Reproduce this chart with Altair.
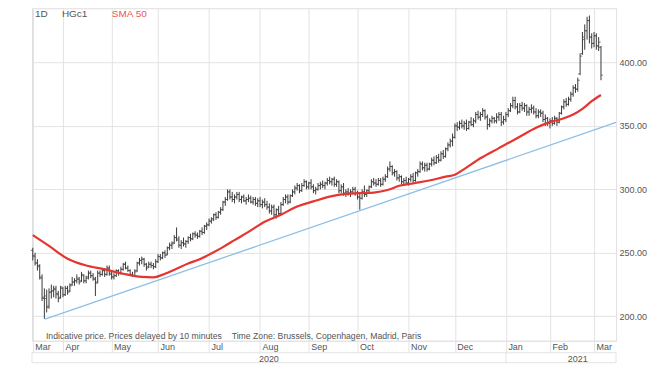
import altair as alt
import pandas as pd

# ---------------- data ----------------
month_labels = ["Mar", "Apr", "May", "Jun", "Jul", "Aug", "Sep", "Oct", "Nov", "Dec", "Jan", "Feb", "Mar"]
month_start_idx = [0, 13, 34, 54, 76, 98, 119, 140, 162, 182, 204, 223, 242]
year_labels = ["2020", "2021"]
year_label_idx = [101.8, 235]
price_ticks = [200, 250, 300, 350, 400]

# daily OHLC, trading-day index 0 = 13 Mar 2020 ... 245 = 4 Mar 2021
open_ = [
    252, 247, 242, 239, 230, 214, 214, 208, 219, 220, 221, 217, 215,
    222, 217, 222, 220, 225, 227, 228, 229, 228, 232, 228, 231, 234, 232, 229, 227, 234, 233, 236, 233, 238,
    233, 231, 232, 236, 234, 237, 241, 238, 236, 233, 232, 236, 242, 244, 245, 241, 239, 241, 240, 239,
    243, 247, 246, 250, 249, 254, 256, 258, 262, 260, 256, 258, 257, 259, 262, 261, 265, 264, 263, 267, 266, 271,
    272, 275, 277, 280, 278, 282, 284, 290, 292, 298, 294, 292, 294, 296, 292, 294, 291, 292, 293, 290, 292, 289,
    291, 288, 290, 288, 286, 283, 286, 280, 284, 281, 288, 292, 294, 290, 295, 298, 301, 303, 299, 303, 306,
    302, 305, 302, 299, 300, 303, 304, 303, 305, 307, 306, 308, 304, 306, 299, 302, 297, 298, 297, 298, 300,
    297, 294, 293, 298, 296, 299, 302, 306, 305, 304, 307, 304, 308, 310, 316, 318, 313, 314, 309, 310, 306, 307,
    305, 308, 310, 307, 313, 314, 320, 317, 319, 316, 320, 323, 321, 325, 323, 328, 326, 332, 335, 338,
    341, 350, 349, 352, 350, 352, 348, 353, 351, 354, 359, 357, 359, 362, 357, 351, 354, 356, 354, 357, 359, 353,
    355, 359, 362, 366, 370, 365, 361, 366, 364, 366, 361, 363, 364, 361, 358, 361, 360, 355, 356,
    352, 354, 352, 356, 353, 360, 365, 369, 367, 371, 375, 380, 379, 391, 407, 418, 425, 433, 420,
    415, 421, 413, 412,
]
high = [
    254, 250, 245, 241, 233, 222, 221, 222, 225, 224, 224, 220, 224,
    223, 224, 224, 226, 231, 230, 233, 231, 235, 233, 232, 236, 236, 234, 231, 236, 236, 238, 238, 240, 240,
    235, 234, 237, 237, 239, 242, 243, 240, 237, 235, 237, 243, 246, 247, 246, 242, 243, 243, 242, 245,
    249, 249, 251, 252, 255, 258, 259, 264, 270, 263, 260, 262, 260, 263, 265, 266, 267, 266, 268, 270, 272, 274,
    277, 278, 281, 282, 283, 286, 291, 294, 300, 300, 298, 296, 298, 298, 295, 296, 294, 296, 295, 294, 294, 293,
    294, 292, 293, 291, 289, 288, 288, 285, 287, 290, 294, 296, 296, 296, 300, 303, 305, 304, 305, 308, 307,
    306, 308, 304, 302, 305, 306, 307, 306, 309, 310, 309, 310, 308, 307, 304, 305, 300, 301, 300, 302, 302,
    299, 298, 300, 303, 300, 303, 308, 309, 308, 309, 309, 310, 312, 318, 322, 319, 316, 315, 312, 311, 309, 310,
    309, 312, 313, 314, 316, 322, 322, 321, 321, 321, 325, 326, 327, 328, 330, 331, 333, 337, 340, 344,
    352, 353, 354, 355, 354, 355, 354, 357, 356, 361, 362, 361, 364, 363, 359, 356, 358, 357, 360, 361, 361, 358,
    361, 364, 368, 373, 373, 368, 368, 369, 368, 367, 365, 367, 366, 364, 363, 363, 362, 359, 357,
    356, 357, 358, 357, 361, 366, 371, 372, 373, 377, 382, 383, 388, 407, 424, 430, 436, 437, 423,
    424, 423, 420, 413,
]
low = [
    244, 240, 236, 229, 212, 198, 203, 206, 214, 215, 214, 211, 214,
    215, 216, 217, 219, 224, 224, 226, 225, 227, 226, 226, 229, 230, 228, 216, 226, 231, 232, 231, 232, 232,
    229, 229, 231, 232, 233, 236, 237, 235, 232, 231, 231, 235, 240, 241, 239, 236, 238, 238, 237, 238,
    242, 244, 245, 246, 248, 252, 253, 257, 259, 254, 253, 255, 254, 257, 259, 260, 262, 261, 262, 264, 265, 268,
    271, 273, 275, 276, 277, 280, 283, 287, 291, 292, 290, 289, 292, 290, 289, 290, 288, 290, 289, 288, 287, 286,
    286, 285, 286, 284, 281, 280, 278, 277, 279, 280, 287, 289, 288, 289, 294, 296, 299, 297, 298, 302, 300,
    300, 300, 297, 296, 299, 300, 301, 300, 303, 304, 303, 302, 302, 297, 297, 295, 294, 295, 294, 296, 295,
    292, 284, 292, 294, 294, 297, 301, 303, 302, 303, 302, 303, 306, 309, 314, 311, 310, 307, 306, 304, 303, 304,
    303, 306, 305, 306, 310, 313, 315, 314, 314, 315, 318, 319, 320, 321, 322, 324, 325, 330, 333, 334,
    340, 346, 347, 348, 347, 346, 347, 350, 349, 352, 355, 354, 357, 355, 347, 349, 352, 352, 352, 354, 350, 351,
    353, 357, 361, 364, 363, 359, 360, 362, 361, 358, 358, 360, 359, 356, 356, 357, 353, 350, 350,
    348, 350, 351, 350, 352, 359, 363, 365, 366, 369, 373, 376, 377, 390, 406, 410, 418, 415, 411,
    412, 410, 409, 386,
]
close = [
    248, 242, 240, 231, 215, 216, 207, 219, 220, 222, 218, 214, 223,
    217, 222, 219, 224, 227, 228, 230, 227, 233, 228, 230, 234, 232, 230, 226, 234, 233, 236, 233, 238, 234,
    231, 232, 236, 234, 237, 241, 238, 236, 233, 232, 235, 242, 244, 245, 241, 238, 241, 240, 239, 243,
    247, 246, 250, 248, 254, 256, 257, 262, 261, 256, 258, 257, 259, 262, 261, 265, 264, 263, 267, 266, 271, 272,
    275, 276, 280, 278, 282, 284, 290, 292, 298, 294, 292, 294, 296, 292, 294, 291, 292, 293, 290, 292, 289, 291,
    288, 290, 288, 286, 283, 286, 280, 284, 281, 288, 292, 294, 290, 295, 298, 301, 303, 299, 303, 306, 302,
    305, 302, 299, 300, 303, 304, 303, 305, 307, 306, 308, 304, 306, 299, 302, 297, 298, 297, 298, 300, 297,
    294, 293, 298, 296, 299, 302, 306, 305, 304, 307, 304, 308, 310, 316, 318, 313, 314, 309, 310, 306, 307, 305,
    308, 310, 307, 313, 314, 320, 317, 319, 316, 320, 323, 321, 325, 323, 328, 326, 332, 335, 338, 341,
    350, 349, 352, 350, 352, 348, 353, 351, 354, 359, 357, 359, 362, 357, 351, 354, 356, 354, 357, 359, 353, 355,
    359, 362, 366, 370, 365, 361, 366, 364, 366, 361, 363, 364, 361, 358, 361, 360, 355, 356, 352,
    354, 352, 356, 353, 360, 365, 369, 367, 371, 375, 380, 379, 386, 405, 420, 425, 433, 420, 415,
    421, 413, 416, 390,
]

# 50-day simple moving average, sampled along the red line
sma_idx = [0, 7, 15, 23, 31, 39, 47, 52, 57, 62, 67, 72, 77, 82, 87, 93, 100, 107, 114, 121, 128,
           135, 141, 147, 153, 158, 165, 171, 178, 182, 186, 193, 201, 209, 217, 223, 229, 233, 237, 241, 245]
sma_val = [264, 255.5, 245.3, 240, 237, 233.5, 231, 230.7, 233.5, 237.5, 241.5, 245, 249.5, 254.5, 260,
           266.5, 274.5, 280, 286.5, 290.5, 294.3, 296.5, 297, 297.5, 299.5, 302.8, 305, 307, 310, 311.5,
           316, 324.5, 332.5, 340.5, 348.5, 353, 356, 359, 363.5, 369.5, 374.4]

# trend line through the lows
trend_idx = [5.3, 251.5]
trend_val = [197.8, 352.7]

# ---------------- tables ----------------
n = len(close)
bars = pd.DataFrame({"idx": list(range(n)), "open": open_, "high": high, "low": low, "close": close})
sma = pd.DataFrame({"idx": sma_idx, "sma": sma_val})
trend = pd.DataFrame({"idx": trend_idx, "trend": trend_val})
years = pd.DataFrame({"idx": year_label_idx, "label": year_labels})
bounds = pd.DataFrame({"idx": [-0.35, month_start_idx[10], 251.5]})

# ---------------- styling ----------------
FONT = "Liberation Sans"
GRID = "#e3e3e3"
TXT = "#555555"
W, H = 585, 333

xscale = alt.Scale(domain=[-0.35, 251.5], nice=False, zero=False)
yscale = alt.Scale(domain=[180.7, 442.7], nice=False, zero=False)

label_arr = "[" + ",".join("'" + m + "'" for m in month_labels) + "]"
val_arr = "[" + ",".join(str(v) for v in month_start_idx) + "]"

xaxis = alt.Axis(
    values=month_start_idx, labelExpr=label_arr + "[indexof(" + val_arr + ", datum.value)]",
    title=None, orient="bottom", grid=True, gridColor=GRID, gridWidth=1,
    domain=True, domainColor=GRID, ticks=True, tickColor=GRID, tickSize=12,
    labelAlign="left", labelBaseline="top", labelPadding=-10, labelOffset=2,
    labelFontSize=9, labelColor=TXT, labelFont=FONT, labelOverlap=False, labelFlush=False,
)
yaxis = alt.Axis(
    values=price_ticks, format=".2f", orient="right", title=None, grid=True, gridColor=GRID,
    domain=True, domainColor=GRID, ticks=False, labelPadding=3, labelFontSize=9,
    labelColor=TXT, labelFont=FONT, labelAlign="left", labelBaseline="middle",
)


def X(field):
    return alt.X(field, type="quantitative", scale=xscale, axis=xaxis)


def Y(field):
    return alt.Y(field, type="quantitative", scale=yscale, axis=yaxis)


trend_line = alt.Chart(trend).mark_line(color="#8dbfe6", strokeWidth=1.3).encode(x=X("idx"), y=Y("trend"))

hl = alt.Chart(bars).mark_rule(color="#3a3a3a", strokeWidth=1).encode(
    x=X("idx"), y=Y("low"), y2="high")
open_tick = alt.Chart(bars).mark_tick(orient="horizontal", color="#3a3a3a", size=2, thickness=1,
                                      xOffset=-1).encode(x=X("idx"), y=Y("open"))
close_tick = alt.Chart(bars).mark_tick(orient="horizontal", color="#3a3a3a", size=2, thickness=1,
                                       xOffset=1).encode(x=X("idx"), y=Y("close"))

sma_line = alt.Chart(sma).mark_line(color="#e53530", strokeWidth=2.2, interpolate="monotone").encode(
    x=X("idx"), y=Y("sma"))

one = pd.DataFrame({"k": [0]})


def label(text, x, y, color=TXT, size=9.0):
    return alt.Chart(one).mark_text(text=text, align="left", baseline="middle", font=FONT,
                                    fontSize=size, color=color).encode(x=alt.value(x), y=alt.value(y))


legend_1d = label("1D", 3, 6, size=10)
legend_sym = label("HGc1", 30, 6, size=10)
legend_sma = label("SMA 50", 80, 6, color="#ee5555", size=10)
note_a = label("Indicative price. Prices delayed by 10 minutes", 14, 328, size=8.7)
note_b = label("Time Zone: Brussels, Copenhagen, Madrid, Paris", 200, 328, size=8.7)

year_text = alt.Chart(years).mark_text(align="center", baseline="middle", font=FONT, fontSize=9,
                                       color=TXT).encode(x=X("idx"), y=alt.value(351), text="label:N")

band_top = alt.Chart(one).mark_rule(color=GRID, strokeWidth=1).encode(
    x=alt.value(0), x2=alt.value(W), y=alt.value(345))
band_bottom = alt.Chart(one).mark_rule(color=GRID, strokeWidth=1).encode(
    x=alt.value(0), x2=alt.value(W), y=alt.value(355))
band_sep = alt.Chart(bounds).mark_rule(color=GRID, strokeWidth=1).encode(
    x=X("idx"), y=alt.value(345), y2=alt.value(355))

chart = alt.layer(
    trend_line, hl, open_tick, close_tick, sma_line,
    legend_1d, legend_sym, legend_sma, note_a, note_b, year_text, band_top, band_bottom, band_sep,
).properties(
    width=W, height=H,
    padding={"left": 24, "top": 0, "right": 36, "bottom": 24},
    autosize=alt.AutoSizeParams(type="none"),
).configure_view(stroke=None).configure(background="white")

chart.save("out.html", embed_options={"renderer": "svg", "actions": False})
